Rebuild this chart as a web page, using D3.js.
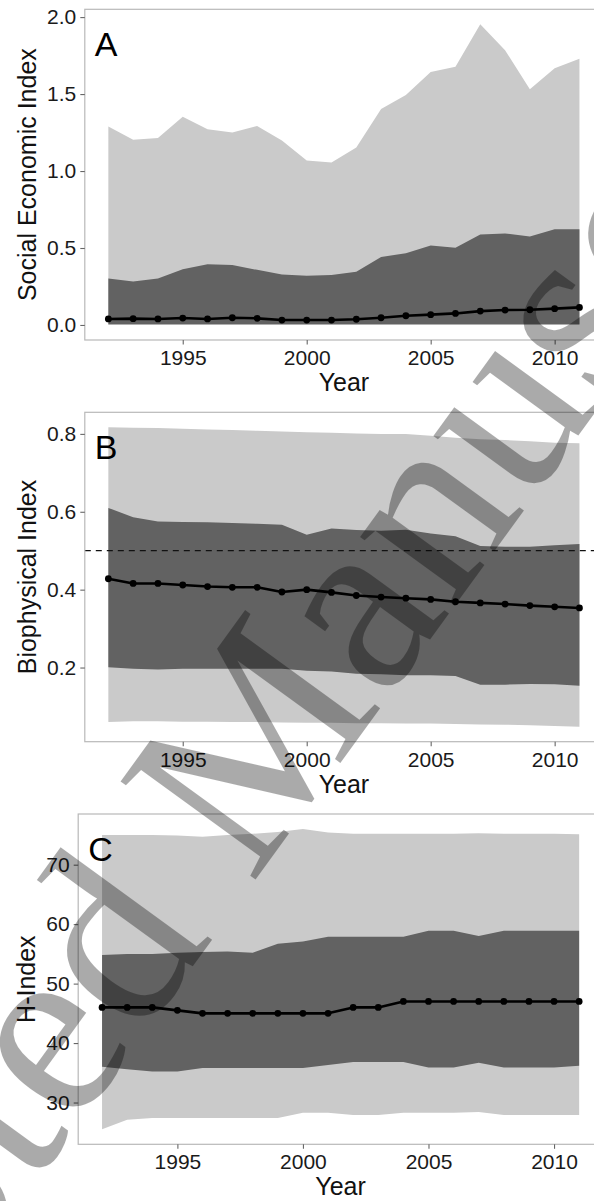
<!DOCTYPE html>
<html>
<head>
<meta charset="utf-8">
<script src="https://cdn.jsdelivr.net/npm/d3@7"></script>
<style>
  body { margin: 0; background: #fff; }
  svg { display: block; }
</style>
</head>
<body>
<div id="chart"></div>
<script>
// years on the x axis
const years = [1992, 1993, 1994, 1995, 1996, 1997, 1998, 1999, 2000, 2001,
               2002, 2003, 2004, 2005, 2006, 2007, 2008, 2009, 2010, 2011];
const xTicks = [1995, 2000, 2005, 2010];

// panel A - social economic index
const seLightLow  = [0, 0, 0, 0, 0, 0, 0, 0, 0, 0, 0, 0, 0, 0, 0, 0, 0, 0, 0, 0];
const seDarkLow   = [0.004, 0.004, 0.004, 0.004, 0.004, 0.004, 0.004, 0.004, 0.004, 0.004,
                     0.004, 0.004, 0.004, 0.004, 0.004, 0.004, 0.004, 0.004, 0.004, 0.004];
const seDarkHigh  = [0.302, 0.283, 0.302, 0.362, 0.394, 0.390, 0.358, 0.328, 0.319, 0.325,
                     0.345, 0.442, 0.466, 0.517, 0.502, 0.588, 0.595, 0.574, 0.621, 0.621];
const seLightHigh = [1.289, 1.203, 1.214, 1.353, 1.272, 1.250, 1.293, 1.198, 1.069, 1.056,
                     1.153, 1.403, 1.494, 1.644, 1.677, 1.953, 1.785, 1.531, 1.668, 1.729];
const seMean      = [0.039, 0.041, 0.039, 0.045, 0.039, 0.047, 0.043, 0.032, 0.032, 0.032,
                     0.037, 0.047, 0.060, 0.067, 0.075, 0.090, 0.097, 0.099, 0.106, 0.114];
const seTicks = [0, 0.5, 1, 1.5, 2];

// panel B - biophysical index
const bpLightLow  = [0.060, 0.062, 0.062, 0.061, 0.061, 0.060, 0.060, 0.059, 0.058, 0.058,
                     0.057, 0.057, 0.056, 0.056, 0.055, 0.054, 0.053, 0.052, 0.050, 0.048];
const bpDarkLow   = [0.201, 0.197, 0.195, 0.197, 0.197, 0.197, 0.197, 0.197, 0.192, 0.190,
                     0.184, 0.183, 0.180, 0.180, 0.178, 0.156, 0.156, 0.158, 0.157, 0.153];
const bpDarkHigh  = [0.610, 0.586, 0.575, 0.574, 0.573, 0.571, 0.569, 0.567, 0.541, 0.557,
                     0.553, 0.551, 0.554, 0.544, 0.537, 0.512, 0.510, 0.510, 0.514, 0.517];
const bpLightHigh = [0.817, 0.816, 0.815, 0.813, 0.811, 0.810, 0.808, 0.806, 0.804, 0.803,
                     0.801, 0.800, 0.800, 0.795, 0.790, 0.786, 0.784, 0.781, 0.777, 0.776];
const bpMean      = [0.428, 0.416, 0.416, 0.412, 0.408, 0.406, 0.406, 0.394, 0.400, 0.393,
                     0.385, 0.381, 0.378, 0.375, 0.369, 0.366, 0.363, 0.359, 0.356, 0.353];
const bpTicks = [0.2, 0.4, 0.6, 0.8];
const bpThreshold = 0.5;

// panel C - h-index
const hLightLow  = [25.5, 27.1, 27.4, 27.4, 27.4, 27.4, 27.4, 27.4, 28.3, 28.3,
                    27.9, 27.9, 28.3, 28.3, 28.3, 28.4, 27.9, 27.9, 27.9, 27.9];
const hDarkLow   = [36.0, 35.6, 35.2, 35.2, 35.8, 35.8, 35.8, 35.8, 35.8, 36.3,
                    36.8, 36.8, 36.8, 35.9, 35.9, 36.7, 35.9, 35.9, 35.9, 36.2];
const hDarkHigh  = [54.8, 55.0, 55.0, 55.2, 55.3, 55.4, 55.2, 56.7, 57.1, 57.9,
                    57.9, 57.9, 57.9, 58.9, 58.9, 58.0, 58.9, 58.9, 58.9, 58.9];
const hLightHigh = [75.0, 75.0, 75.0, 74.9, 74.7, 75.0, 75.2, 75.5, 76.0, 75.4,
                    75.2, 75.2, 75.2, 75.2, 75.2, 75.3, 75.2, 75.2, 75.2, 75.1];
const hMean      = [46, 46, 46, 45.5, 45, 45, 45, 45, 45, 45,
                    46, 46, 47, 47, 47, 47, 47, 47, 47, 47];
const hTicks = [30, 40, 50, 60, 70];

const width = 594, height = 1201;
const FONT = "'Liberation Sans', Arial, Helvetica, sans-serif";
const lightFill = "#cacaca", darkFill = "#626262";

const svg = d3.select("#chart").append("svg")
    .attr("width", width)
    .attr("height", height);

svg.append("rect").attr("width", width).attr("height", height).attr("fill", "#fff");

// ggplot style 5% expansion
function expand(ext) {
    const pad = (ext[1] - ext[0]) * 0.05;
    return [ext[0] - pad, ext[1] + pad];
}

const panels = [
    { label: "A", title: "Social Economic Index", box: { left: 84.8, top: 9.3, right: 603, bottom: 340 },
      lo: seLightLow, dlo: seDarkLow, dhi: seDarkHigh, hi: seLightHigh, mean: seMean,
      ticks: seTicks, fmt: d3.format(".1f"), titleX: 36 },
    { label: "B", title: "Biophysical Index", box: { left: 84.8, top: 412.3, right: 603, bottom: 741.7 },
      lo: bpLightLow, dlo: bpDarkLow, dhi: bpDarkHigh, hi: bpLightHigh, mean: bpMean,
      ticks: bpTicks, fmt: d3.format(".1f"), titleX: 36, hline: bpThreshold },
    { label: "C", title: "H-Index", box: { left: 78.2, top: 814, right: 603, bottom: 1144.3 },
      lo: hLightLow, dlo: hDarkLow, dhi: hDarkHigh, hi: hLightHigh, mean: hMean,
      ticks: hTicks, fmt: d3.format("d"), titleX: 35 }
];

panels.forEach(function(p) {
    const b = p.box;
    const rows = years.map(function(y, i) {
        return { year: y, lo: p.lo[i], dlo: p.dlo[i], dhi: p.dhi[i], hi: p.hi[i], mean: p.mean[i] };
    });

    const x = d3.scaleLinear()
        .domain(expand(d3.extent(years)))
        .range([b.left, b.right]);
    const y = d3.scaleLinear()
        .domain(expand([d3.min(p.lo.concat(p.dlo)), d3.max(p.hi.concat(p.mean))]))
        .range([b.bottom, b.top]);

    const g = svg.append("g");

    // outer band
    g.append("path")
        .datum(rows)
        .attr("fill", lightFill)
        .attr("d", d3.area().x(d => x(d.year)).y0(d => y(d.lo)).y1(d => y(d.hi)));

    // inner band
    g.append("path")
        .datum(rows)
        .attr("fill", darkFill)
        .attr("d", d3.area().x(d => x(d.year)).y0(d => y(d.dlo)).y1(d => y(d.dhi)));

    if (p.hline !== undefined) {
        g.append("line")
            .attr("x1", b.left).attr("x2", b.right)
            .attr("y1", y(p.hline)).attr("y2", y(p.hline))
            .attr("stroke", "#111")
            .attr("stroke-width", 1.3)
            .attr("stroke-dasharray", "6,5");
    }

    // mean line and points
    g.append("path")
        .datum(rows)
        .attr("fill", "none")
        .attr("stroke", "#000")
        .attr("stroke-width", 2.6)
        .attr("stroke-linejoin", "round")
        .attr("d", d3.line().x(d => x(d.year)).y(d => y(d.mean)));

    g.selectAll(".pt")
        .data(rows)
        .join("circle")
        .attr("class", "pt")
        .attr("cx", d => x(d.year))
        .attr("cy", d => y(d.mean))
        .attr("r", 3.4)
        .attr("fill", "#000");

    // panel border
    g.append("rect")
        .attr("x", b.left).attr("y", b.top)
        .attr("width", b.right - b.left).attr("height", b.bottom - b.top)
        .attr("fill", "none")
        .attr("stroke", "#b8b8b8")
        .attr("stroke-width", 1.2);

    // panel letter
    g.append("text")
        .attr("x", b.left + 10)
        .attr("y", b.top + 47)
        .style("font-family", FONT)
        .style("font-size", "34px")
        .attr("fill", "#000")
        .text(p.label);

    // axes
    const xAxis = g.append("g")
        .attr("transform", "translate(0," + b.bottom + ")")
        .call(d3.axisBottom(x).tickValues(xTicks).tickFormat(d3.format("d")).tickSize(4.5).tickPadding(5.5));
    const yAxis = g.append("g")
        .attr("transform", "translate(" + b.left + ",0)")
        .call(d3.axisLeft(y).tickValues(p.ticks).tickFormat(p.fmt).tickSize(4.5).tickPadding(4));

    [xAxis, yAxis].forEach(function(a) {
        a.select(".domain").remove();
        a.selectAll("line").attr("stroke", "#666").attr("stroke-width", 1.1);
        a.selectAll("text")
            .style("font-family", FONT)
            .style("font-size", "21px")
            .attr("fill", "#1a1a1a");
    });

    // axis titles
    g.append("text")
        .attr("x", (b.left + b.right) / 2)
        .attr("y", b.bottom + 51)
        .attr("text-anchor", "middle")
        .style("font-family", FONT)
        .style("font-size", "25px")
        .attr("fill", "#111")
        .text("Year");

    g.append("text")
        .attr("transform", "translate(" + p.titleX + "," + ((b.top + b.bottom) / 2) + ") rotate(-90)")
        .attr("text-anchor", "middle")
        .style("font-family", FONT)
        .style("font-size", "25px")
        .attr("fill", "#111")
        .text(p.title);
});

// diagonal watermark laid over the figure
svg.append("text")
    .attr("transform", "translate(-352,1716) rotate(-54)")
    .style("font-family", "'Liberation Serif', 'DejaVu Serif', serif")
    .style("font-size", "255px")
    .attr("fill", "#000")
    .attr("opacity", 0.33)
    .text("Accepted Manuscript");
</script>
</body>
</html>
